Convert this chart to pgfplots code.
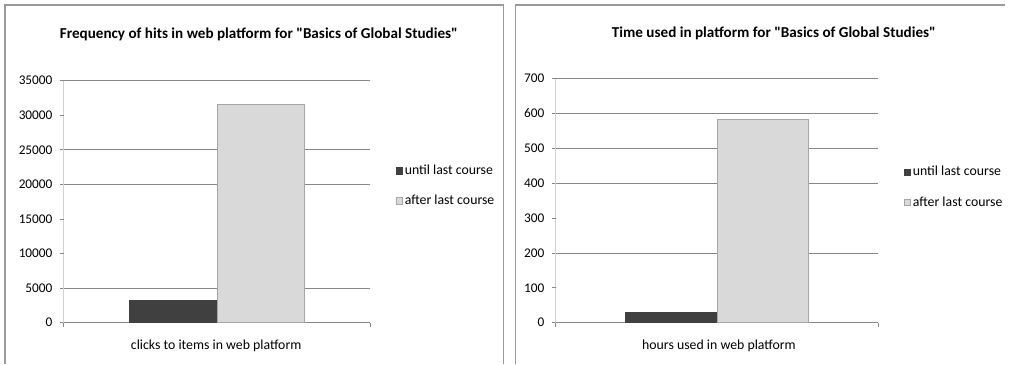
\documentclass[border=0pt]{standalone}
\usepackage{pgfplots}
\pgfplotsset{compat=1.18}
\usepackage{fontspec}
\setmainfont{Carlito}
\definecolor{darkbar}{HTML}{404040}
\definecolor{lightbar}{HTML}{D9D9D9}
\definecolor{barline}{HTML}{A6A6A6}
\definecolor{gridgray}{HTML}{868686}
\definecolor{framegray}{HTML}{9A9A9A}
\newcommand{\chartfont}{\fontsize{10.4}{12}\selectfont}
\newcommand{\tickfont}{\fontsize{10}{12}\selectfont}
\newcommand{\titlefont}{\bfseries\fontsize{11.4}{13}\selectfont}
\pgfplotsset{
  chartstyle/.style={
    scale only axis,
    axis lines*=left,
    ybar=0pt,
    xmin=-0.5, xmax=0.5,
    ymin=0,
    xtick={-0.5,0.5}, xticklabels={},
    tick align=outside,
    major tick length=3pt,
    tick style={gridgray, line width=0.6pt},
    x axis line style={gridgray, line width=0.6pt},
    y axis line style={gray!35, line width=0.9pt},
    ymajorgrids=true,
    major grid style={gridgray, line width=0.6pt},
    extra y tick style={grid=none},
    scaled y ticks=false,
    /pgf/number format/assume math mode=true,
    /pgf/number format/1000 sep={},
    ticklabel style={font=\tickfont},
    yticklabel style={xshift=-2pt},
    title style={font=\titlefont, anchor=center},
    xlabel style={font=\chartfont, anchor=center},
    legend style={draw=none, fill=none, font=\chartfont, anchor=west, row sep=10pt},
    legend cell align=left,
    legend image code/.code={\draw[#1] (0pt,-2.5pt) rectangle (4.5pt,2.5pt);},
    clip=false,
  },
}
\begin{document}
\begin{tikzpicture}
% panel frames
\path (0,0) rectangle (756.75pt,273.75pt);
\draw[framegray, line width=0.8pt] (3.75pt,0) -- (3.75pt,270pt) -- (379.5pt,270pt) -- (379.5pt,0);
\draw[framegray, line width=0.8pt] (388.5pt,0) -- (388.5pt,270pt) -- (756.75pt,270pt);

\begin{axis}[chartstyle,
  at={(48pt,30.75pt)}, anchor=south west,
  width=231pt, height=182.25pt,
  ymax=35000,
  ytick={0,5000,20000,25000,35000},
  extra y ticks={10000,15000,30000},
  bar width=66pt,
  title={Frequency of hits in web platform for \textquotedbl Basics of Global Studies\textquotedbl},
  title style={at={(axis description cs:0.636,1.16)}},
  xlabel={clicks to items in web platform},
  xlabel style={at={(axis description cs:0.497,-0.095)}},
  legend style={at={(axis description cs:1.068,0.565)}},
]
\addplot[fill=darkbar, draw=darkbar] coordinates {(0,3170)};
\addplot[fill=lightbar, draw=barline] coordinates {(0,31540)};
\legend{until last course, after last course}
\end{axis}

\begin{axis}[chartstyle,
  at={(418.5pt,30.75pt)}, anchor=south west,
  width=243pt, height=183.75pt,
  ymax=700,
  ytick={0,200,400,500,600,700},
  extra y ticks={100,300},
  bar width=69pt,
  title={Time used in platform for \textquotedbl Basics of Global Studies\textquotedbl},
  title style={at={(axis description cs:0.676,1.151)}},
  xlabel={hours used in web platform},
  xlabel style={at={(axis description cs:0.506,-0.094)}},
  legend style={at={(axis description cs:1.065,0.555)}},
]
\addplot[fill=darkbar, draw=darkbar] coordinates {(0,29)};
\addplot[fill=lightbar, draw=barline] coordinates {(0,584)};
\legend{until last course, after last course}
\end{axis}
\end{tikzpicture}
\end{document}
